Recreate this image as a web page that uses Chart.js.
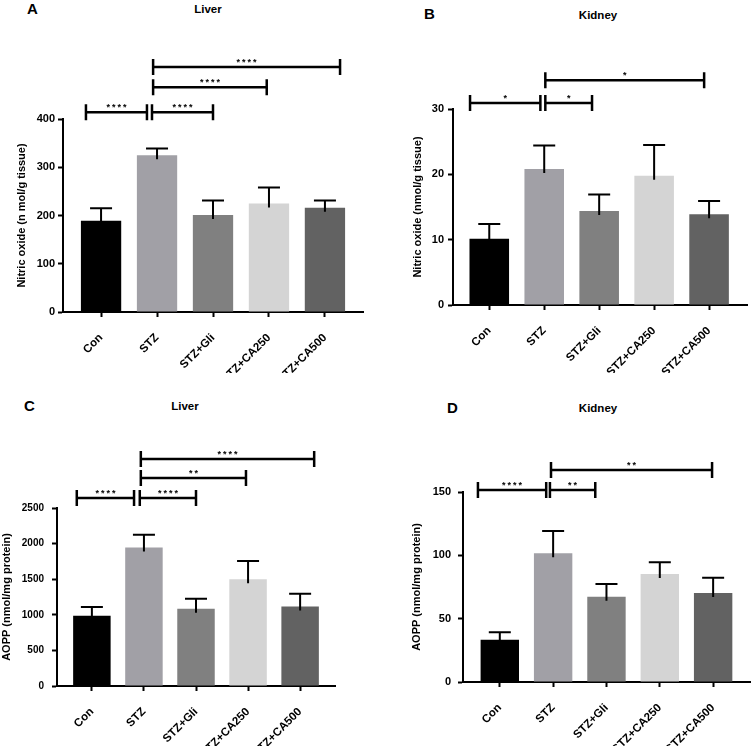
<!DOCTYPE html>
<html>
<head>
<meta charset="utf-8">
<script src="https://cdn.jsdelivr.net/npm/chart.js@4.4.1/dist/chart.umd.min.js"></script>
<style>
  body { margin: 0; background: #fff; width: 751px; height: 746px; position: relative; overflow: hidden;
         font-family: "Liberation Sans", Arial, sans-serif; }
  canvas { position: absolute; }
  .lbl { position: absolute; font-weight: bold; color: #000; white-space: nowrap; }
  .letter { font-size: 15px; line-height: 15px; }
  .ttl { font-size: 11.5px; line-height: 11.5px; width: 100px; text-align: center; }
</style>
</head>
<body>
<div class="lbl letter" style="left:27px;top:1px">A</div>
<div class="lbl ttl" style="left:158px;top:4px">Liver</div>
<div class="lbl letter" style="left:424px;top:6px">B</div>
<div class="lbl ttl" style="left:548px;top:10px">Kidney</div>
<div class="lbl letter" style="left:24px;top:398px">C</div>
<div class="lbl ttl" style="left:135px;top:401px">Liver</div>
<div class="lbl letter" style="left:447px;top:400px">D</div>
<div class="lbl ttl" style="left:548px;top:403px">Kidney</div>

<canvas id="panelA" width="375" height="373" style="left:0;top:0"></canvas>
<canvas id="panelB" width="376" height="373" style="left:375px;top:0"></canvas>
<canvas id="panelC" width="375" height="373" style="left:0;top:373px"></canvas>
<canvas id="panelD" width="376" height="373" style="left:375px;top:373px"></canvas>

<script>
const groups = ["Con", "STZ", "STZ+Gli", "STZ+CA250", "STZ+CA500"];
const groupColors = ["#000000", "#a1a0a6", "#808080", "#d4d4d4", "#626262"];

// A: liver nitric oxide
const liverNO = [189, 325, 201, 225, 216];
const liverNOErr = [26, 14, 30, 33, 15];
const liverNOTicks = [0, 100, 200, 300, 400];
// [from, to, level, stars]
const liverNOSig = [
  [-0.27, 0.82, 414, "****"],
  [0.91, 2.0, 414, "****"],
  [0.93, 2.96, 466, "****"],
  [0.93, 4.27, 508, "****"],
];

// B: kidney nitric oxide
const kidneyNO = [10.15, 20.8, 14.4, 19.8, 13.9];
const kidneyNOErr = [2.25, 3.6, 2.5, 4.7, 2.0];
const kidneyNOTicks = [0, 10, 20, 30];
const kidneyNOSig = [
  [-0.35, 0.93, 30.9, "*"],
  [1.02, 1.87, 30.9, "*"],
  [1.02, 3.91, 34.4, "*"],
];

// C: liver AOPP
const liverAOPP = [985, 1945, 1085, 1500, 1115];
const liverAOPPErr = [125, 180, 140, 255, 180];
const liverAOPPTicks = [0, 500, 1000, 1500, 2000, 2500];
const liverAOPPSig = [
  [-0.29, 0.81, 2640, "****"],
  [0.92, 2.0, 2640, "****"],
  [0.94, 2.96, 2921, "**"],
  [0.94, 4.27, 3188, "****"],
];

// D: kidney AOPP
const kidneyAOPP = [33.4, 101.6, 67.4, 85.3, 70.3];
const kidneyAOPPErr = [5.8, 17.6, 10, 9.2, 12];
const kidneyAOPPTicks = [0, 50, 100, 150];
const kidneyAOPPSig = [
  [-0.41, 0.87, 151.6, "****"],
  [0.94, 1.79, 151.6, "**"],
  [0.96, 3.98, 167.4, "**"],
];

const FONT = "'Liberation Sans', Arial, sans-serif";
Chart.defaults.font.family = FONT;

function extrasPlugin(values, errors, sig) {
  return {
    id: "extras",
    afterDatasetsDraw(chart) {
      const { ctx, scales: { x, y } } = chart;
      const bars = chart.getDatasetMeta(0).data;
      ctx.save();
      ctx.strokeStyle = "#000";
      ctx.lineWidth = 2;
      bars.forEach((bar, i) => {
        const base = y.getPixelForValue(values[i]);
        const top = y.getPixelForValue(values[i] + errors[i]);
        ctx.beginPath();
        ctx.moveTo(bar.x, base + 4);
        ctx.lineTo(bar.x, top);
        ctx.moveTo(bar.x - 11, top);
        ctx.lineTo(bar.x + 11, top);
        ctx.stroke();
      });

      ctx.lineWidth = 2.5;
      ctx.fillStyle = "#000";
      ctx.font = "bold 9px " + FONT;
      ctx.textAlign = "center";
      ctx.textBaseline = "alphabetic";
      ctx.letterSpacing = "2px";
      sig.forEach(([a, b, level, stars]) => {
        const x1 = x.getPixelForValue(a);
        const x2 = x.getPixelForValue(b);
        const yy = y.getPixelForValue(level);
        ctx.beginPath();
        ctx.moveTo(x1, yy);
        ctx.lineTo(x2, yy);
        ctx.moveTo(x1, yy - 8);
        ctx.lineTo(x1, yy + 8);
        ctx.moveTo(x2, yy - 8);
        ctx.lineTo(x2, yy + 8);
        ctx.stroke();
        ctx.fillText(stars, (x1 + x2) / 2 + 1, yy - 2);
      });
      ctx.restore();
    },
  };
}

function makePanel(canvasId, values, errors, yTicks, sig, p) {
  const canvas = document.getElementById(canvasId);
  new Chart(canvas.getContext("2d"), {
    type: "bar",
    data: {
      datasets: [
        {
          data: values.map((v, i) => ({ x: i, y: v })),
          backgroundColor: groupColors,
          borderWidth: 0,
          barPercentage: 0.72,
          categoryPercentage: 1,
        },
      ],
    },
    options: {
      responsive: false,
      animation: false,
      devicePixelRatio: 1,
      layout: { padding: { top: p.top, right: p.right, left: 0, bottom: 0 } },
      plugins: { legend: { display: false }, tooltip: { enabled: false } },
      scales: {
        x: {
          type: "linear",
          offset: false,
          min: p.xMin,
          max: p.xMax,
          afterBuildTicks: (s) => { s.ticks = groups.map((g, i) => ({ value: i })); },
          afterFit: (s) => { s.height = canvas.height - p.bottom; },
          border: { color: "#000", width: 2 },
          grid: { offset: false, drawOnChartArea: false, tickLength: 5, tickColor: "#000", tickWidth: 2 },
          ticks: {
            color: "#000",
            font: { size: 11.5, weight: "bold" },
            minRotation: 45,
            maxRotation: 45,
            autoSkip: false,
            padding: 14,
            callback: (v) => groups[v],
          },
        },
        y: {
          min: 0,
          max: yTicks[yTicks.length - 1],
          afterBuildTicks: (s) => { s.ticks = yTicks.map((v) => ({ value: v })); },
          afterFit: (s) => { s.width = p.left; },
          border: { color: "#000", width: 2 },
          grid: { drawOnChartArea: false, tickLength: 5, tickColor: "#000", tickWidth: 2 },
          ticks: {
            color: "#000",
            font: { size: p.tickSize, weight: "bold" },
            padding: p.tickPad,
            callback: (v) => String(v),
          },
          title: {
            display: true,
            text: p.yTitle,
            color: "#000",
            font: { size: 11, weight: "bold" },
            padding: { top: p.titlePad, bottom: 0 },
          },
        },
      },
    },
    plugins: [extrasPlugin(values, errors, sig)],
  });
}

makePanel("panelA", liverNO, liverNOErr, liverNOTicks, liverNOSig, {
  left: 63, right: 12, top: 119, bottom: 312, xMin: -0.68, xMax: 4.68,
  tickPad: 3, tickSize: 11, titlePad: 15, yTitle: "Nitric oxide (n mol/g tissue)",
});
makePanel("panelB", kidneyNO, kidneyNOErr, kidneyNOTicks, kidneyNOSig, {
  left: 78, right: 4, top: 109, bottom: 305, xMin: -0.66, xMax: 4.69,
  tickPad: 4, tickSize: 11, titlePad: 36, yTitle: "Nitric oxide (nmol/g tissue)",
});
makePanel("panelC", liverAOPP, liverAOPPErr, liverAOPPTicks, liverAOPPSig, {
  left: 57, right: 40, top: 135, bottom: 313, xMin: -0.67, xMax: 4.67,
  tickPad: 8, tickSize: 10, titlePad: 0, yTitle: "AOPP (nmol/mg protein)",
});
makePanel("panelD", kidneyAOPP, kidneyAOPPErr, kidneyAOPPTicks, kidneyAOPPSig, {
  left: 88, right: 0, top: 119, bottom: 309, xMin: -0.69, xMax: 4.71,
  tickPad: 7, tickSize: 11, titlePad: 35, yTitle: "AOPP (nmol/mg protein)",
});
</script>
</body>
</html>
